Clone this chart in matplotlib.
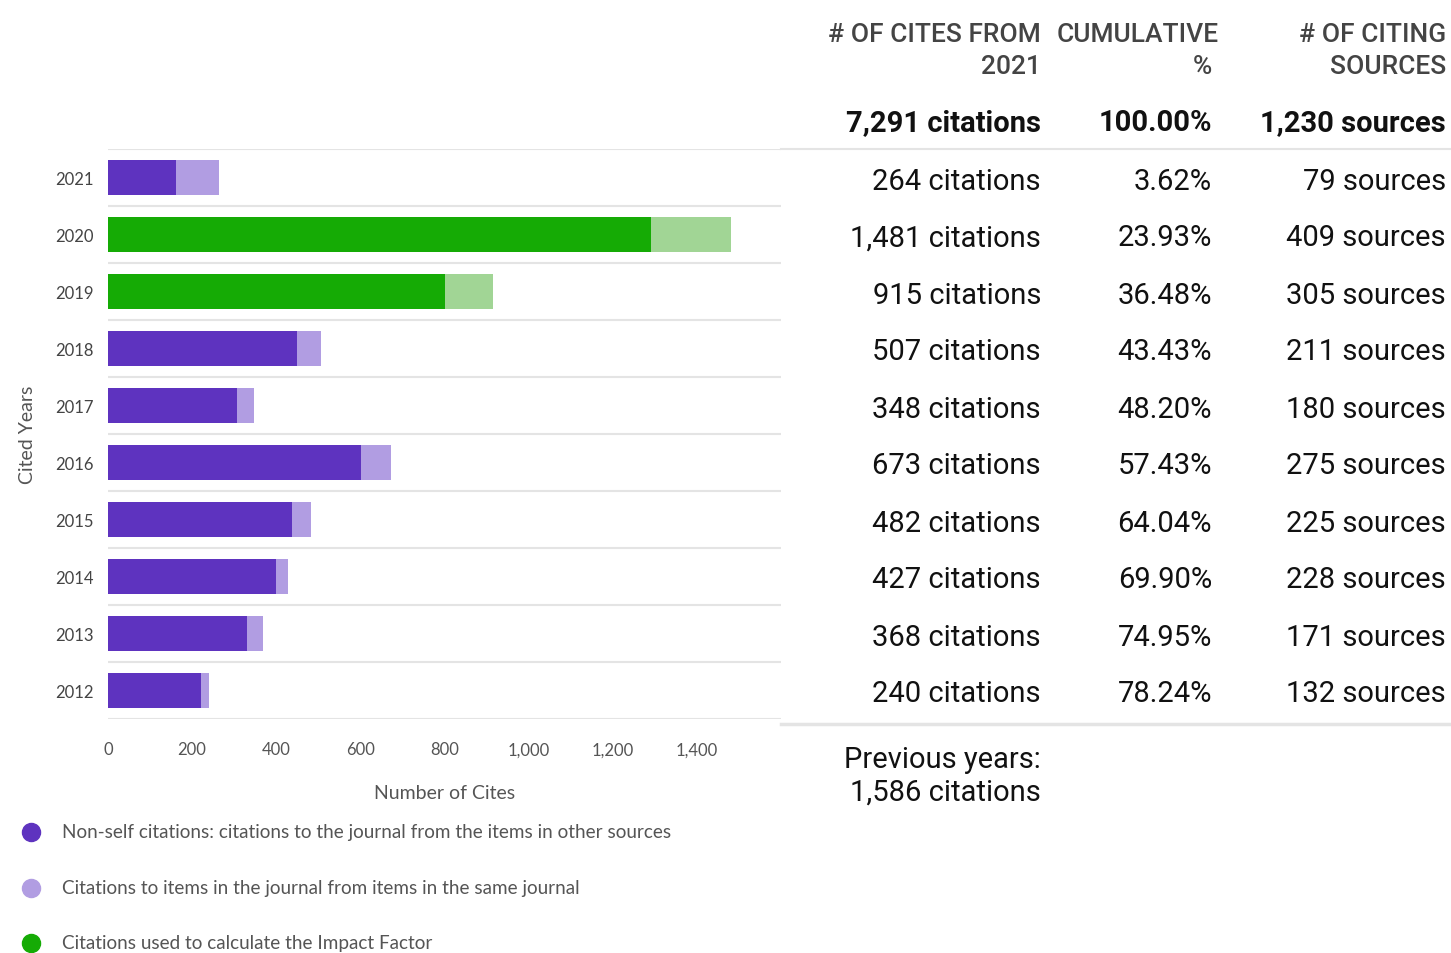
import numpy as np
import matplotlib
matplotlib.use('Agg')
import matplotlib.pyplot as plt
import matplotlib.transforms as transforms
from matplotlib.lines import Line2D

# data, top row first
years = ['2021', '2020', '2019', '2018', '2017', '2016', '2015', '2014', '2013', '2012']
nonself = [162, 1291, 801, 449, 307, 601, 437, 399, 330, 221]
totals = [264, 1481, 915, 507, 348, 673, 482, 427, 368, 240]
impact_years = ['2020', '2019']
cumulative = ['3.62%', '23.93%', '36.48%', '43.43%', '48.20%', '57.43%',
              '64.04%', '69.90%', '74.95%', '78.24%']
sources = [79, 409, 305, 211, 180, 275, 225, 228, 171, 132]
total_cites = '7,291 citations'
total_pct = '100.00%'
total_sources = '1,230 sources'
previous_cites = 1586
xticks = [0, 200, 400, 600, 800, 1000, 1200, 1400]
legend_labels = ['Non-self citations: citations to the journal from the items in other sources',
                 'Citations to items in the journal from items in the same journal',
                 'Citations used to calculate the Impact Factor']

PURPLE = '#5e33bf'
LPURPLE = '#b19de2'
GREEN = '#15ab05'
LGREEN = '#a1d595'
GRID = '#e4e4e4'
chart_font = ['Lato', 'DejaVu Sans']
table_font = ['Roboto', 'DejaVu Sans']

W, H = 1451, 954
fig = plt.figure(figsize=(W / 100, H / 100), dpi=100)
ax = fig.add_axes([108 / W, 1 - 720 / H, (781 - 108) / W, (720 - 150) / H])

ypos = np.arange(len(years))
selfc = np.array(totals) - np.array(nonself)
dark = [GREEN if y in impact_years else PURPLE for y in years]
light = [LGREEN if y in impact_years else LPURPLE for y in years]
ax.barh(ypos, nonself, height=0.6, color=dark, zorder=3)
ax.barh(ypos, selfc, left=nonself, height=0.6, color=light, zorder=3)

ax.set_xlim(0, 1600)
ax.set_ylim(len(years) - 0.5, -0.5)
ax.set_yticks(ypos)
ax.set_yticklabels(years, fontfamily=chart_font, fontsize=12, color='#444444')
ax.set_xticks(xticks)
ax.set_xticklabels([f'{v:,}' for v in xticks], fontfamily=chart_font, fontsize=12, color='#555555')
ax.tick_params(axis='y', length=0, pad=10)
ax.tick_params(axis='x', length=0, pad=16)
for b in np.arange(-0.5, len(years), 1.0):
    ax.axhline(b, color=GRID, lw=1.5, zorder=1)
for s in ax.spines.values():
    s.set_visible(False)
ax.set_xlabel('Number of Cites', fontfamily=chart_font, fontsize=14, color='#555555', labelpad=19)
ax.set_ylabel('Cited Years', fontfamily=chart_font, fontsize=14, color='#555555', labelpad=14)

# legend as dots + text
for i, (lab, col) in enumerate(zip(legend_labels, [PURPLE, LPURPLE, GREEN])):
    yy = 1 - (833 + i * 55.5) / H
    fig.add_artist(Line2D([31 / W], [yy], marker='o', markersize=13, color=col,
                          transform=fig.transFigure, linestyle='none'))
    fig.text(62 / W, yy, lab, fontfamily=chart_font, fontsize=13.6, color='#555555', va='center')

# table on the right
c1, c2h, c2, c3 = 1041 / W, 1219 / W, 1212 / W, 1446 / W
hdr = dict(fontfamily=table_font, fontsize=19, fontweight='medium', color='#444444',
           ha='right', va='center_baseline')
fig.text(c1, 1 - 33 / H, '# OF CITES FROM', **hdr)
fig.text(c1, 1 - 64 / H, '2021', **hdr)
fig.text(c2h, 1 - 33 / H, 'CUMULATIVE', **hdr)
fig.text(c2, 1 - 64 / H, '%', **hdr)
fig.text(c3, 1 - 33 / H, '# OF CITING', **hdr)
fig.text(c3, 1 - 64 / H, 'SOURCES', **hdr)

bold = dict(fontfamily=table_font, fontsize=21, fontweight='bold', color='#111111',
            ha='right', va='center_baseline')
fig.text(c1, 1 - 120 / H, total_cites, **bold)
fig.text(c2, 1 - 120 / H, total_pct, **bold)
fig.text(c3, 1 - 120 / H, total_sources, **bold)

tr = transforms.blended_transform_factory(fig.transFigure, ax.transData)
plain = dict(fontfamily=table_font, fontsize=21, color='#111111', ha='right', va='center_baseline')
for i in range(len(years)):
    fig.text(c1, ypos[i], f'{totals[i]:,} citations', transform=tr, **plain)
    fig.text(c2, ypos[i], cumulative[i], transform=tr, **plain)
    fig.text(c3, ypos[i], f'{sources[i]} sources', transform=tr, **plain)

fig.add_artist(Line2D([781 / W, 1], [1 - 150 / H] * 2, color=GRID, lw=1.5, transform=fig.transFigure))
fig.add_artist(Line2D([781 / W, 1], [1 - 725 / H] * 2, color=GRID, lw=2.5, transform=fig.transFigure))

fig.text(c1, 1 - 757 / H, 'Previous years:', **plain)
fig.text(c1, 1 - 790 / H, f'{previous_cites:,} citations', **plain)

fig.savefig('out.png', dpi=100)
